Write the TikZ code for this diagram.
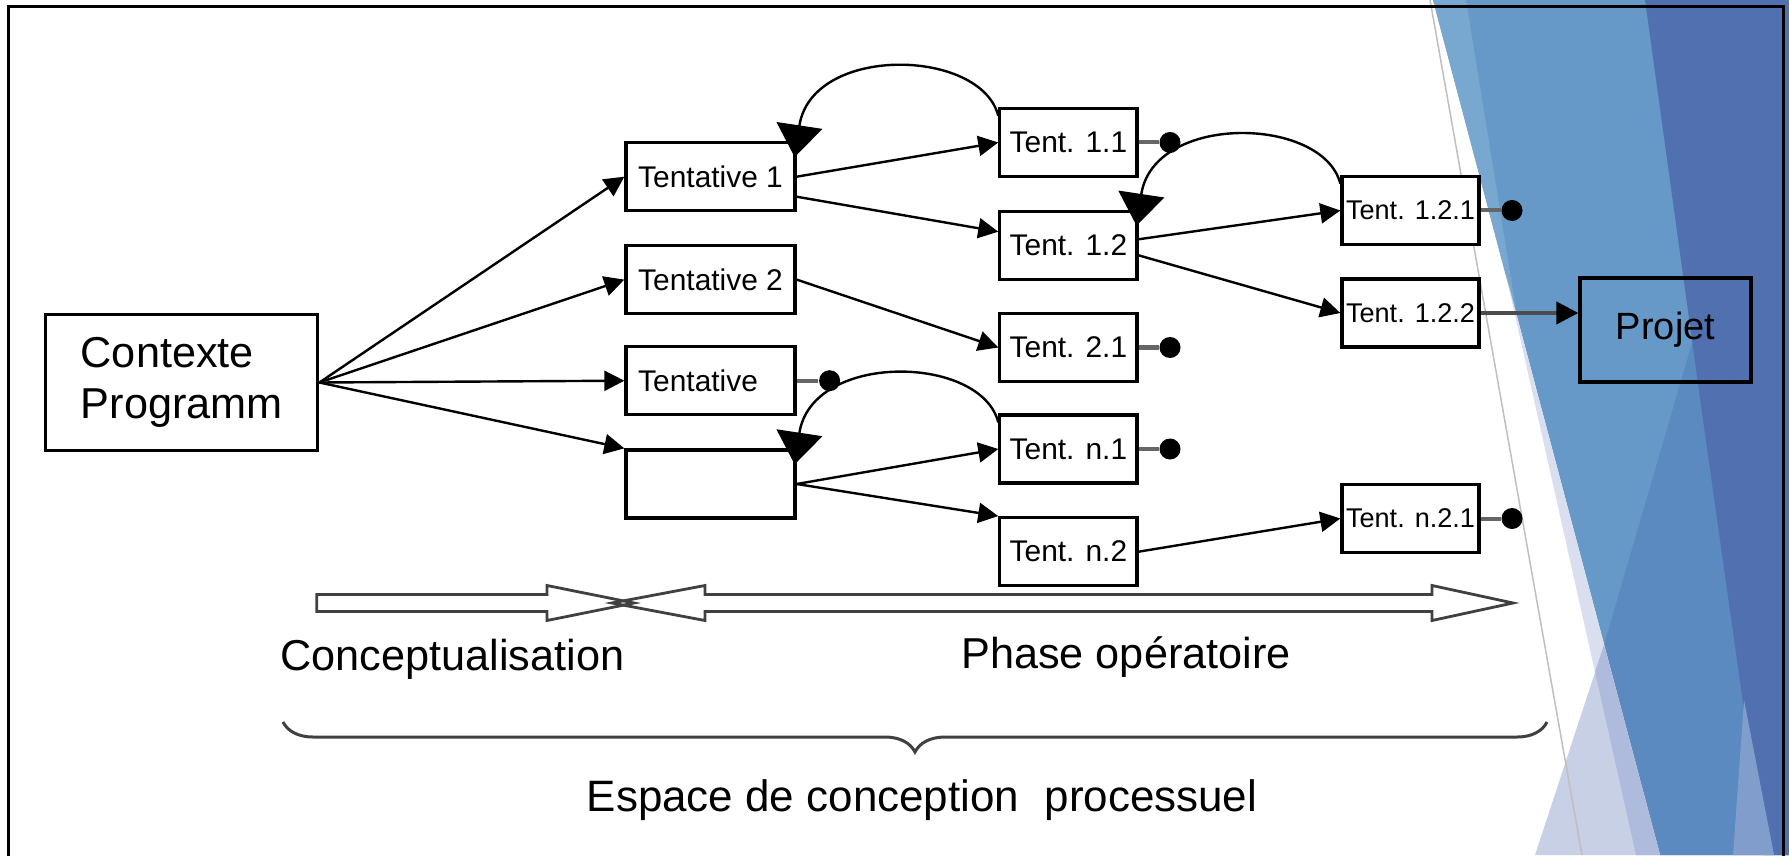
\documentclass[tikz,border=0pt]{standalone}
\usepackage{fontspec}
\setmainfont{Liberation Sans}
\usetikzlibrary{arrows.meta,decorations.pathreplacing}

\definecolor{facetmid}{HTML}{6699C7}
\definecolor{facetlight}{HTML}{78A8D0}
\definecolor{facetdeep}{HTML}{5A8ABF}
\definecolor{facetdark}{HTML}{5070B0}
\definecolor{facetpale}{HTML}{D9DFEE}
\definecolor{facetlilac}{HTML}{C8D0E6}
\definecolor{facetlav}{HTML}{AEBBDC}
\definecolor{facetsoft}{HTML}{819DCB}

\tikzset{
        block/.style = {rectangle,fill=white,draw=black,line width=0.032cm,minimum height=0.68cm,inner sep=0pt,font=\fontsize{8.5}{10}\selectfont},
        wide/.style = {minimum width=1.69cm},
        narrow/.style = {minimum width=1.37cm},
        deep/.style = {font=\fontsize{7.7}{9}\selectfont},
        dot/.style = {circle,fill=black,minimum size=0.21cm,inner sep=0pt},
        link/.style = {line width=0.024cm,-{Triangle[length=0.2cm,width=0.2cm]}},
        back/.style = {line width=0.024cm,-{Triangle[length=0.32cm,width=0.46cm]}},
        stub/.style = {line width=0.04cm,draw=black!60},
        hollow/.style = {draw=black!75,line width=0.028cm,line join=miter},
        caption/.style = {anchor=base,font=\fontsize{12.3}{14}\selectfont}
    }

\begin{document}
\begin{tikzpicture}[x=0.01cm,y=-0.01cm]
            \clip (0,0) rectangle (1789,855);

            \fill[facetmid] (1433,0) -- (1789,0) -- (1789,855) -- (1660,855) -- cycle;
            \fill[facetlight] (1433,0) -- (1466,0) -- (1518,322) -- cycle;
            \fill[facetdeep] (1789,10) -- (1604,645) -- (1660,855) -- (1789,855) -- cycle;
            \fill[facetdark] (1645,0) -- (1789,0) -- (1789,855) -- (1764,855) -- (1744,710) -- (1704,427) -- cycle;
            \fill[facetsoft] (1744,700) -- (1774,855) -- (1733,855) -- cycle;
            \fill[facetpale] (1506,275) -- (1660,855) -- (1636,855) -- cycle;
            \fill[facetlilac] (1535,855) -- (1604,645) -- (1660,855) -- cycle;
            \fill[facetlav] (1604,645) -- (1660,855) -- (1636,855) -- (1595,672) -- cycle;
            \draw[black!25,line width=0.015cm] (1430,0) -- (1582,855);

            \draw[line width=0.03cm] (8.5,6.5) rectangle (1783,880);

            \node[block,minimum width=2.72cm,minimum height=1.36cm,align=left,font=\fontsize{12.3}{14.7}\selectfont] (ctx) at (181.7,382.5) {Contexte\\Programm};

            \node[block,wide] (t1) at (710.5,176.7) {Tentative 1};
            \node[block,wide] (t2) at (710.5,279.6) {Tentative 2};
            \node[block,wide] (t3) at (710.5,380.7) {Tentative\phantom{ 1}};
            \node[block,wide] (t4) at (710.5,484) {};

            \node[block,narrow] (t11) at (1068.4,142.5) {Tent. 1.1};
            \node[block,narrow] (t12) at (1068.4,245.3) {Tent. 1.2};
            \node[block,narrow] (t21) at (1068.4,347.5) {Tent. 2.1};
            \node[block,narrow] (tn1) at (1068.4,449) {Tent. n.1};
            \node[block,narrow] (tn2) at (1068.4,551.7) {Tent. n.2};

            \node[block,narrow,deep] (t121) at (1410.5,210.5) {Tent. 1.2.1};
            \node[block,narrow,deep] (t122) at (1410.5,313) {Tent. 1.2.2};
            \node[block,narrow,deep] (tn21) at (1410.5,518.5) {Tent. n.2.1};

            \node[block,fill=none,minimum width=1.71cm,minimum height=1.04cm,font=\fontsize{10.8}{13}\selectfont] (prj) at (1665.5,330) {Projet};

            \node[dot] (d3) at (829.6,380.7) {};
            \node[dot] (d11) at (1170,142.5) {};
            \node[dot] (d21) at (1170,347.5) {};
            \node[dot] (dn1) at (1170,449) {};
            \node[dot] (d121) at (1512,210.5) {};
            \node[dot] (dn21) at (1512,518.5) {};

            \draw[link] (ctx.east) -- (t1.west);
            \draw[link] (ctx.east) -- (t2.west);
            \draw[link] (ctx.east) -- (t3.west);
            \draw[link] (ctx.east) -- (t4.north west);

            \draw[link] (t1.east) -- (t11.west);
            \draw[link] ([yshift=-0.2cm]t1.east) -- ([yshift=0.136cm]t12.west);
            \draw[link] (t2.east) -- (t21.west);
            \draw[link] (t4.east) -- (tn1.west);
            \draw[link] (t4.east) -- (tn2.north west);
            \draw[link] ([yshift=0.06cm]t12.east) -- (t121.west);
            \draw[link] ([yshift=-0.1cm]t12.east) -- (t122.west);
            \draw[link] (tn2.east) -- (tn21.west);
            \draw[line width=0.04cm,draw=black!70,-{Triangle[length=0.22cm,width=0.22cm,color=black]}] (t122.east) -- (t122.east -| prj.west);

            \draw[stub] (t3.east) -- (d3);
            \draw[stub] (t11.east) -- (d11);
            \draw[stub] (t21.east) -- (d21);
            \draw[stub] (tn1.east) -- (dn1);
            \draw[stub] (t121.east) -- (d121);
            \draw[stub] (tn21.east) -- (dn21);

            \draw[back] ([yshift=-0.09cm]t11.north west) .. controls +(-17,-68) and +(17,-113) .. ([xshift=-0.02cm,yshift=-0.16cm]t1.north east);
            \draw[back] ([yshift=-0.09cm]t121.north west) .. controls +(-17,-68) and +(17,-113) .. ([xshift=-0.02cm,yshift=-0.16cm]t12.north east);
            \draw[back] ([yshift=-0.09cm]tn1.north west) .. controls +(-17,-68) and +(17,-113) .. ([xshift=-0.02cm,yshift=-0.16cm]t4.north east);

            \draw[hollow] (612,603) -- (705,585.5) -- (705,594.5) -- (1432,594.5) -- (1432,585.5) -- (1513,603) -- (1432,620.5) -- (1432,611.5) -- (705,611.5) -- (705,620.5) -- cycle;
            \draw[hollow] (316.7,594.5) -- (547,594.5) -- (547,585.5) -- (634,603) -- (547,620.5) -- (547,611.5) -- (316.7,611.5) -- cycle;

            \node[caption] (conc) at (452.5,670) {Conceptualisation};
            \node[caption] (oper) at (1126,668) {Phase opératoire};

            \draw[black!75,line width=0.03cm,decorate,decoration={brace,amplitude=0.3cm}] (1547,722) -- (283,722);
            \node[caption,font=\fontsize{12.5}{14}\selectfont] (espace) at (922,811.7) {Espace de conception\hspace{0.3em} processuel};
        \end{tikzpicture}
\end{document}
